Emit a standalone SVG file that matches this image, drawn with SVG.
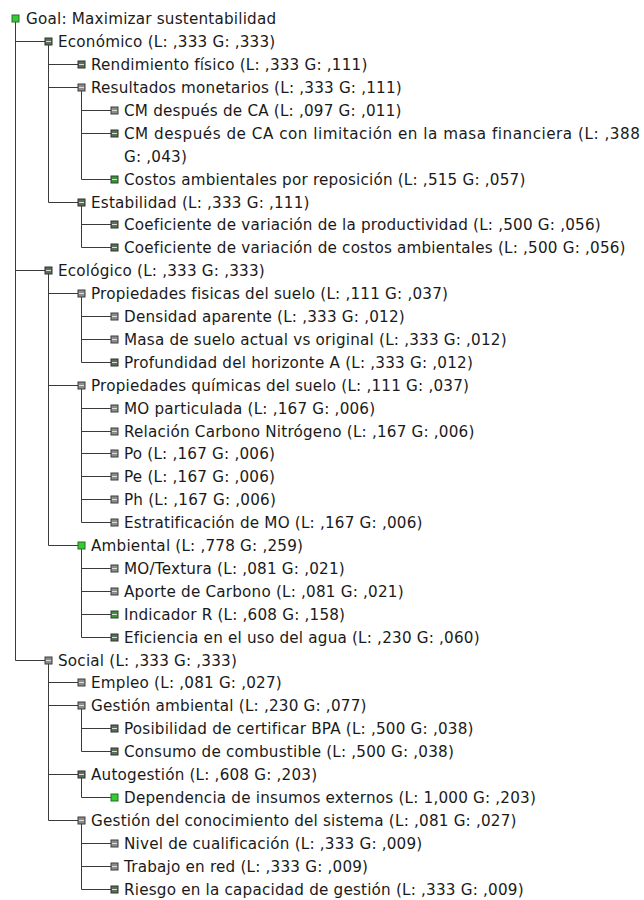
<svg xmlns="http://www.w3.org/2000/svg" width="644" height="900" viewBox="0 0 644 900">
<style>
  .bg{fill:#ffffff}
  .t{font-family:"DejaVu Sans","Liberation Sans",sans-serif;font-size:15.2px;letter-spacing:0.2px;fill:#1a1a1a}
  .ln{stroke:#3a3a3a;stroke-width:1;fill:none}
  .ic{stroke-width:1}
  .bright{fill:#33cc33;stroke:#2a6a2a}
  .grn{fill:#3f8f3f;stroke:#2a442a}
  .dk{fill:#5b6d5b;stroke:#2c342c}
  .gray{fill:#8c8c8c;stroke:#3c3c3c}
  .hl{stroke:#d8e0d8;stroke-width:1}
</style>
<rect class="bg" x="0" y="0" width="644" height="900"/>

<g id="connectors">
  <path class="ln" d="M15.5 22 V660.5"/>
  <path class="ln" d="M15.5 41.5 H45 M15.5 270.5 H45 M15.5 660.5 H45"/>
  <path class="ln" d="M48.5 45 V202.5"/>
  <path class="ln" d="M48.5 64.5 H78 M48.5 87.5 H78 M48.5 202.5 H78"/>
  <path class="ln" d="M81.5 91 V179.5"/>
  <path class="ln" d="M81.5 110.5 H111 M81.5 133.5 H111 M81.5 179.5 H111"/>
  <path class="ln" d="M81.5 206 V247.5"/>
  <path class="ln" d="M81.5 224.5 H111 M81.5 247.5 H111"/>
  <path class="ln" d="M48.5 274 V545.5"/>
  <path class="ln" d="M48.5 293.5 H78 M48.5 385.5 H78 M48.5 545.5 H78"/>
  <path class="ln" d="M81.5 297 V362.5"/>
  <path class="ln" d="M81.5 316.5 H111 M81.5 339.5 H111 M81.5 362.5 H111"/>
  <path class="ln" d="M81.5 389 V522.5"/>
  <path class="ln" d="M81.5 408.5 H111 M81.5 431.5 H111 M81.5 453.5 H111 M81.5 476.5 H111 M81.5 499.5 H111 M81.5 522.5 H111"/>
  <path class="ln" d="M81.5 549 V637.5"/>
  <path class="ln" d="M81.5 568.5 H111 M81.5 591.5 H111 M81.5 614.5 H111 M81.5 637.5 H111"/>
  <path class="ln" d="M48.5 664 V820.5"/>
  <path class="ln" d="M48.5 682.5 H78 M48.5 705.5 H78 M48.5 774.5 H78 M48.5 820.5 H78"/>
  <path class="ln" d="M81.5 709 V751.5"/>
  <path class="ln" d="M81.5 728.5 H111 M81.5 751.5 H111"/>
  <path class="ln" d="M81.5 778 V797.5"/>
  <path class="ln" d="M81.5 797.5 H111"/>
  <path class="ln" d="M81.5 824 V889.5"/>
  <path class="ln" d="M81.5 843.5 H111 M81.5 866.5 H111 M81.5 889.5 H111"/>
</g>

<g id="n-goal"><rect class="ic bright" x="12" y="15" width="7" height="7"/><text class="t" x="26" y="23.5">Goal: Maximizar sustentabilidad</text></g>

<g id="n-economico"><rect class="ic dk" x="45" y="38" width="7" height="7"/><line class="hl" x1="46" y1="41.5" x2="51" y2="41.5"/><text class="t" x="58" y="46.5">Económico (L: ,333 G: ,333)</text></g>
<g id="n-rendimiento"><rect class="ic dk" x="78" y="61" width="7" height="7"/><line class="hl" x1="79" y1="64.5" x2="84" y2="64.5"/><text class="t" x="91" y="69.5">Rendimiento físico (L: ,333 G: ,111)</text></g>
<g id="n-resultados"><rect class="ic gray" x="78" y="84" width="7" height="7"/><line class="hl" x1="79" y1="87.5" x2="84" y2="87.5"/><text class="t" x="91" y="92.5">Resultados monetarios (L: ,333 G: ,111)</text></g>
<g id="n-cm1"><rect class="ic gray" x="111" y="107" width="7" height="7"/><line class="hl" x1="112" y1="110.5" x2="117" y2="110.5"/><text class="t" x="124" y="115.5">CM después de CA (L: ,097 G: ,011)</text></g>
<g id="n-cm2"><rect class="ic dk" x="111" y="130" width="7" height="7"/><line class="hl" x1="112" y1="133.5" x2="117" y2="133.5"/><text class="t" x="124" y="138.5" textLength="516" lengthAdjust="spacing">CM después de CA con limitación en la masa financiera (L: ,388</text><text class="t" x="124" y="161.5">G: ,043)</text></g>
<g id="n-costos"><rect class="ic grn" x="111" y="176" width="7" height="7"/><line class="hl" x1="112" y1="179.5" x2="117" y2="179.5"/><text class="t" x="124" y="184.5">Costos ambientales por reposición (L: ,515 G: ,057)</text></g>
<g id="n-estabilidad"><rect class="ic dk" x="78" y="199" width="7" height="7"/><line class="hl" x1="79" y1="202.5" x2="84" y2="202.5"/><text class="t" x="91" y="207.5">Estabilidad (L: ,333 G: ,111)</text></g>
<g id="n-coef1"><rect class="ic dk" x="111" y="221" width="7" height="7"/><line class="hl" x1="112" y1="224.5" x2="117" y2="224.5"/><text class="t" x="124" y="229.5">Coeficiente de variación de la productividad (L: ,500 G: ,056)</text></g>
<g id="n-coef2"><rect class="ic dk" x="111" y="244" width="7" height="7"/><line class="hl" x1="112" y1="247.5" x2="117" y2="247.5"/><text class="t" x="124" y="252.5">Coeficiente de variación de costos ambientales (L: ,500 G: ,056)</text></g>

<g id="n-ecologico"><rect class="ic dk" x="45" y="267" width="7" height="7"/><line class="hl" x1="46" y1="270.5" x2="51" y2="270.5"/><text class="t" x="58" y="275.5">Ecológico (L: ,333 G: ,333)</text></g>
<g id="n-propfis"><rect class="ic gray" x="78" y="290" width="7" height="7"/><line class="hl" x1="79" y1="293.5" x2="84" y2="293.5"/><text class="t" x="91" y="298.5">Propiedades fisicas del suelo (L: ,111 G: ,037)</text></g>
<g id="n-densidad"><rect class="ic gray" x="111" y="313" width="7" height="7"/><line class="hl" x1="112" y1="316.5" x2="117" y2="316.5"/><text class="t" x="124" y="321.5">Densidad aparente (L: ,333 G: ,012)</text></g>
<g id="n-masa"><rect class="ic gray" x="111" y="336" width="7" height="7"/><line class="hl" x1="112" y1="339.5" x2="117" y2="339.5"/><text class="t" x="124" y="344.5">Masa de suelo actual vs original (L: ,333 G: ,012)</text></g>
<g id="n-profundidad"><rect class="ic dk" x="111" y="359" width="7" height="7"/><line class="hl" x1="112" y1="362.5" x2="117" y2="362.5"/><text class="t" x="124" y="367.5">Profundidad del horizonte A (L: ,333 G: ,012)</text></g>
<g id="n-propquim"><rect class="ic gray" x="78" y="382" width="7" height="7"/><line class="hl" x1="79" y1="385.5" x2="84" y2="385.5"/><text class="t" x="91" y="390.5">Propiedades químicas del suelo (L: ,111 G: ,037)</text></g>
<g id="n-mopart"><rect class="ic gray" x="111" y="405" width="7" height="7"/><line class="hl" x1="112" y1="408.5" x2="117" y2="408.5"/><text class="t" x="124" y="413.5">MO particulada (L: ,167 G: ,006)</text></g>
<g id="n-relacion"><rect class="ic gray" x="111" y="428" width="7" height="7"/><line class="hl" x1="112" y1="431.5" x2="117" y2="431.5"/><text class="t" x="124" y="436.5">Relación Carbono Nitrógeno (L: ,167 G: ,006)</text></g>
<g id="n-po"><rect class="ic gray" x="111" y="450" width="7" height="7"/><line class="hl" x1="112" y1="453.5" x2="117" y2="453.5"/><text class="t" x="124" y="458.5">Po (L: ,167 G: ,006)</text></g>
<g id="n-pe"><rect class="ic gray" x="111" y="473" width="7" height="7"/><line class="hl" x1="112" y1="476.5" x2="117" y2="476.5"/><text class="t" x="124" y="481.5">Pe (L: ,167 G: ,006)</text></g>
<g id="n-ph"><rect class="ic gray" x="111" y="496" width="7" height="7"/><line class="hl" x1="112" y1="499.5" x2="117" y2="499.5"/><text class="t" x="124" y="504.5">Ph (L: ,167 G: ,006)</text></g>
<g id="n-estratif"><rect class="ic gray" x="111" y="519" width="7" height="7"/><line class="hl" x1="112" y1="522.5" x2="117" y2="522.5"/><text class="t" x="124" y="527.5">Estratificación de MO (L: ,167 G: ,006)</text></g>
<g id="n-ambiental"><rect class="ic bright" x="78" y="542" width="7" height="7"/><text class="t" x="91" y="550.5">Ambiental (L: ,778 G: ,259)</text></g>
<g id="n-motextura"><rect class="ic gray" x="111" y="565" width="7" height="7"/><line class="hl" x1="112" y1="568.5" x2="117" y2="568.5"/><text class="t" x="124" y="573.5">MO/Textura (L: ,081 G: ,021)</text></g>
<g id="n-aporte"><rect class="ic gray" x="111" y="588" width="7" height="7"/><line class="hl" x1="112" y1="591.5" x2="117" y2="591.5"/><text class="t" x="124" y="596.5">Aporte de Carbono (L: ,081 G: ,021)</text></g>
<g id="n-indicador"><rect class="ic grn" x="111" y="611" width="7" height="7"/><line class="hl" x1="112" y1="614.5" x2="117" y2="614.5"/><text class="t" x="124" y="619.5">Indicador R (L: ,608 G: ,158)</text></g>
<g id="n-eficiencia"><rect class="ic dk" x="111" y="634" width="7" height="7"/><line class="hl" x1="112" y1="637.5" x2="117" y2="637.5"/><text class="t" x="124" y="642.5">Eficiencia en el uso del agua (L: ,230 G: ,060)</text></g>

<g id="n-social"><rect class="ic gray" x="45" y="657" width="7" height="7"/><line class="hl" x1="46" y1="660.5" x2="51" y2="660.5"/><text class="t" x="58" y="665.5">Social (L: ,333 G: ,333)</text></g>
<g id="n-empleo"><rect class="ic gray" x="78" y="679" width="7" height="7"/><line class="hl" x1="79" y1="682.5" x2="84" y2="682.5"/><text class="t" x="91" y="687.5">Empleo (L: ,081 G: ,027)</text></g>
<g id="n-gestamb"><rect class="ic gray" x="78" y="702" width="7" height="7"/><line class="hl" x1="79" y1="705.5" x2="84" y2="705.5"/><text class="t" x="91" y="710.5">Gestión ambiental (L: ,230 G: ,077)</text></g>
<g id="n-posibilidad"><rect class="ic dk" x="111" y="725" width="7" height="7"/><line class="hl" x1="112" y1="728.5" x2="117" y2="728.5"/><text class="t" x="124" y="733.5">Posibilidad de certificar BPA (L: ,500 G: ,038)</text></g>
<g id="n-consumo"><rect class="ic dk" x="111" y="748" width="7" height="7"/><line class="hl" x1="112" y1="751.5" x2="117" y2="751.5"/><text class="t" x="124" y="756.5">Consumo de combustible (L: ,500 G: ,038)</text></g>
<g id="n-autogestion"><rect class="ic dk" x="78" y="771" width="7" height="7"/><line class="hl" x1="79" y1="774.5" x2="84" y2="774.5"/><text class="t" x="91" y="779.5">Autogestión (L: ,608 G: ,203)</text></g>
<g id="n-dependencia"><rect class="ic bright" x="111" y="794" width="7" height="7"/><text class="t" x="124" y="802.5">Dependencia de insumos externos (L: 1,000 G: ,203)</text></g>
<g id="n-gestcon"><rect class="ic gray" x="78" y="817" width="7" height="7"/><line class="hl" x1="79" y1="820.5" x2="84" y2="820.5"/><text class="t" x="91" y="825.5">Gestión del conocimiento del sistema (L: ,081 G: ,027)</text></g>
<g id="n-nivel"><rect class="ic gray" x="111" y="840" width="7" height="7"/><line class="hl" x1="112" y1="843.5" x2="117" y2="843.5"/><text class="t" x="124" y="848.5">Nivel de cualificación (L: ,333 G: ,009)</text></g>
<g id="n-trabajo"><rect class="ic gray" x="111" y="863" width="7" height="7"/><line class="hl" x1="112" y1="866.5" x2="117" y2="866.5"/><text class="t" x="124" y="871.5">Trabajo en red (L: ,333 G: ,009)</text></g>
<g id="n-riesgo"><rect class="ic dk" x="111" y="886" width="7" height="7"/><line class="hl" x1="112" y1="889.5" x2="117" y2="889.5"/><text class="t" x="124" y="894.5">Riesgo en la capacidad de gestión (L: ,333 G: ,009)</text></g>
</svg>
